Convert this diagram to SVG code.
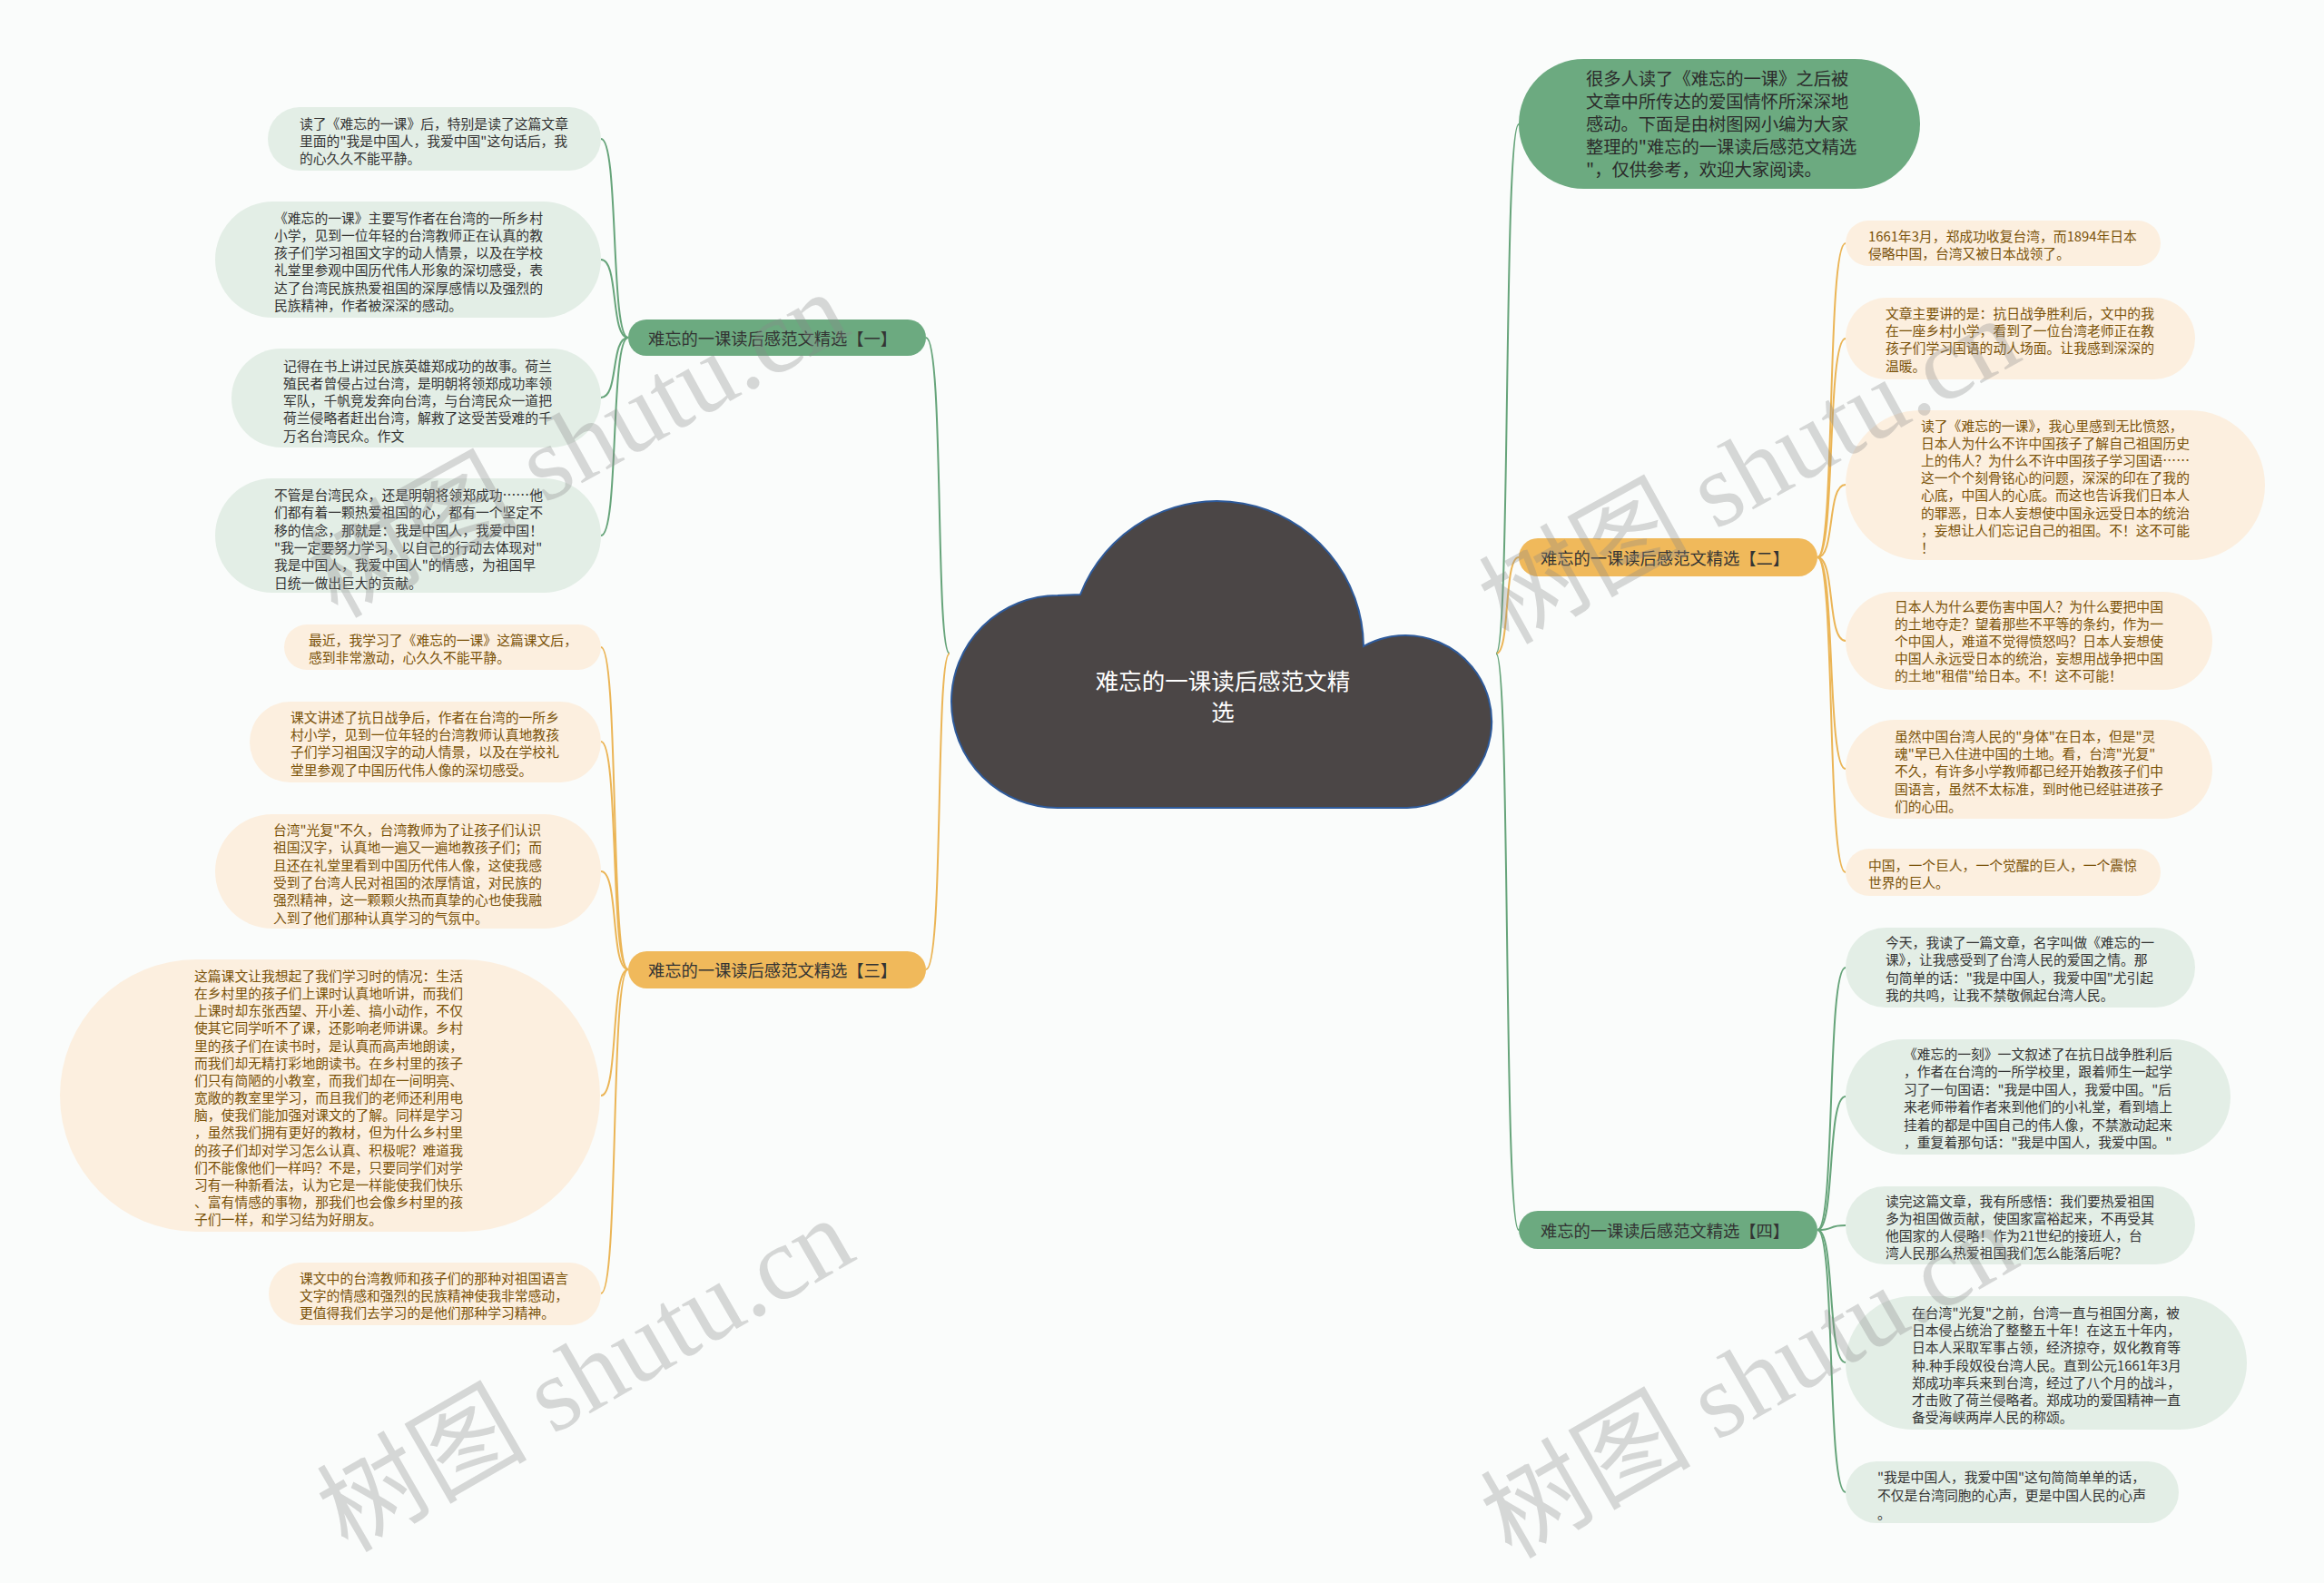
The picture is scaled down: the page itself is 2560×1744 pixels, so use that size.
<svg xmlns="http://www.w3.org/2000/svg" width="2560" height="1744" viewBox="0 0 2560 1744">
<style>
text{font-family:"Noto Sans CJK SC","Noto Sans",sans-serif;dominant-baseline:central}
.lf{font-size:14.8px}
.gt{fill:#333333}
.ot{fill:#7a5208}
.gl{fill:#e3eee6}
.ol{fill:#fcefdf}
.gb{fill:#6caa80}
.ob{fill:#f0b95b}
.lb{font-size:18.3px;fill:#333333;text-anchor:middle}
.cg{fill:none;stroke:#66a47a;stroke-width:2}
.co{fill:none;stroke:#ebb556;stroke-width:2}
.wm{font-family:"Liberation Serif","Noto Sans CJK SC",serif;font-size:116px;fill:#8a8a8a;fill-opacity:0.32;text-anchor:middle}
</style>
<rect width="2560" height="1744" fill="#fafcfb"/>
<g id="connectors">
<path class="cg" d="M1046 720 C1030 720 1040 372 1020 372"/>
<path class="co" d="M1046 720 C1030 720 1040 1068 1020 1068"/>
<path class="cg" d="M1648 720 C1664 720 1656 137 1673 137"/>
<path class="co" d="M1648 720 C1664 720 1656 614 1673 614"/>
<path class="cg" d="M1648 720 C1664 720 1656 1355 1673 1355"/>
<path class="cg" d="M692 372 C672 372 682 153 662 153"/>
<path class="cg" d="M692 372 C672 372 682 286 662 286"/>
<path class="cg" d="M692 372 C672 372 682 438 662 438"/>
<path class="cg" d="M692 372 C672 372 682 590 662 590"/>
<path class="co" d="M692 1068 C672 1068 682 713 662 713"/>
<path class="co" d="M692 1068 C672 1068 682 817 662 817"/>
<path class="co" d="M692 1068 C672 1068 682 960 662 960"/>
<path class="co" d="M692 1068 C672 1068 682 1207 662 1207"/>
<path class="co" d="M692 1068 C672 1068 682 1425 662 1425"/>
<path class="co" d="M2002 614 C2022 614 2012 268 2033 268"/>
<path class="co" d="M2002 614 C2022 614 2012 373 2033 373"/>
<path class="co" d="M2002 614 C2022 614 2012 534 2033 534"/>
<path class="co" d="M2002 614 C2022 614 2012 706 2033 706"/>
<path class="co" d="M2002 614 C2022 614 2012 847 2033 847"/>
<path class="co" d="M2002 614 C2022 614 2012 961 2033 961"/>
<path class="cg" d="M2002 1355 C2022 1355 2012 1066 2033 1066"/>
<path class="cg" d="M2002 1355 C2022 1355 2012 1208 2033 1208"/>
<path class="cg" d="M2002 1355 C2022 1355 2012 1350 2033 1350"/>
<path class="cg" d="M2002 1355 C2022 1355 2012 1501 2033 1501"/>
<path class="cg" d="M2002 1355 C2022 1355 2012 1644 2033 1644"/>
</g>
<g id="root">
<path d="M1165 656 L1190 655 A161.5 161.5 0 0 1 1502 712 A95 95 0 1 1 1550 890 L1165 890 A117 117 0 0 1 1048 773 A117 117 0 0 1 1165 656 Z" fill="#4b4646" stroke="#2e5a9a" stroke-width="2"/>
<text x="1347" y="748" font-size="25.5" fill="#ffffff" text-anchor="middle">难忘的一课读后感范文精</text>
<text x="1347" y="782" font-size="25.5" fill="#ffffff" text-anchor="middle">选</text>
</g>
<g id="intro">
<rect class="gb" x="1673" y="65" width="442" height="143" rx="71.5"/>
<text font-size="19.3" fill="#2b2b2b"><tspan x="1747" y="86">很多人读了《难忘的一课》之后被</tspan><tspan x="1747" dy="25">文章中所传达的爱国情怀所深深地</tspan><tspan x="1747" dy="25">感动。下面是由树图网小编为大家</tspan><tspan x="1747" dy="25">整理的"难忘的一课读后感范文精选</tspan><tspan x="1747" dy="25">"，仅供参考，欢迎大家阅读。</tspan></text>
</g>
<g id="branch1">
<rect class="gb" x="692" y="352" width="328" height="40" rx="20"/>
<text class="lb" x="851" y="372">难忘的一课读后感范文精选【一】</text>
</g>
<g id="branch3">
<rect class="ob" x="692" y="1048" width="328" height="41" rx="20.5"/>
<text class="lb" x="851" y="1068">难忘的一课读后感范文精选【三】</text>
</g>
<g id="branch2">
<rect class="ob" x="1673" y="593" width="329" height="42" rx="21"/>
<text class="lb" x="1834" y="614">难忘的一课读后感范文精选【二】</text>
</g>
<g id="branch4">
<rect class="gb" x="1673" y="1334" width="329" height="42" rx="21"/>
<text class="lb" x="1834" y="1355">难忘的一课读后感范文精选【四】</text>
</g>
<g id="l1a">
<rect class="gl" x="295" y="118" width="367" height="70" rx="35"/>
<text class="lf gt"><tspan x="330" y="135">读了《难忘的一课》后，特别是读了这篇文章</tspan><tspan x="330" dy="19.2">里面的"我是中国人，我爱中国"这句话后，我</tspan><tspan x="330" dy="19.2">的心久久不能平静。</tspan></text>
</g>
<g id="l1b">
<rect class="gl" x="237" y="222" width="425" height="128" rx="64"/>
<text class="lf gt"><tspan x="302" y="238.5">《难忘的一课》主要写作者在台湾的一所乡村</tspan><tspan x="302" dy="19.3">小学，见到一位年轻的台湾教师正在认真的教</tspan><tspan x="302" dy="19.3">孩子们学习祖国文字的动人情景，以及在学校</tspan><tspan x="302" dy="19.3">礼堂里参观中国历代伟人形象的深切感受，表</tspan><tspan x="302" dy="19.3">达了台湾民族热爱祖国的深厚感情以及强烈的</tspan><tspan x="302" dy="19.3">民族精神，作者被深深的感动。</tspan></text>
</g>
<g id="l1c">
<rect class="gl" x="255" y="384" width="407" height="109" rx="54.5"/>
<text class="lf gt"><tspan x="312" y="401.5">记得在书上讲过民族英雄郑成功的故事。荷兰</tspan><tspan x="312" dy="19.3">殖民者曾侵占过台湾，是明朝将领郑成功率领</tspan><tspan x="312" dy="19.3">军队，千帆竞发奔向台湾，与台湾民众一道把</tspan><tspan x="312" dy="19.3">荷兰侵略者赶出台湾，解救了这受苦受难的千</tspan><tspan x="312" dy="19.3">万名台湾民众。作文</tspan></text>
</g>
<g id="l1d">
<rect class="gl" x="237" y="527" width="425" height="126" rx="63"/>
<text class="lf gt"><tspan x="302" y="544">不管是台湾民众，还是明朝将领郑成功……他</tspan><tspan x="302" dy="19.3">们都有着一颗热爱祖国的心，都有一个坚定不</tspan><tspan x="302" dy="19.3">移的信念，那就是：我是中国人，我爱中国！</tspan><tspan x="302" dy="19.3">"我一定要努力学习，以自己的行动去体现对"</tspan><tspan x="302" dy="19.3">我是中国人，我爱中国人"的情感，为祖国早</tspan><tspan x="302" dy="19.3">日统一做出巨大的贡献。</tspan></text>
</g>
<g id="l3a">
<rect class="ol" x="313" y="688" width="349" height="50" rx="25"/>
<text class="lf ot"><tspan x="340" y="704">最近，我学习了《难忘的一课》这篇课文后，</tspan><tspan x="340" dy="19">感到非常激动，心久久不能平静。</tspan></text>
</g>
<g id="l3b">
<rect class="ol" x="275" y="773" width="387" height="89" rx="44.5"/>
<text class="lf ot"><tspan x="320" y="789">课文讲述了抗日战争后，作者在台湾的一所乡</tspan><tspan x="320" dy="19.2">村小学，见到一位年轻的台湾教师认真地教孩</tspan><tspan x="320" dy="19.2">子们学习祖国汉字的动人情景，以及在学校礼</tspan><tspan x="320" dy="19.2">堂里参观了中国历代伟人像的深切感受。</tspan></text>
</g>
<g id="l3c">
<rect class="ol" x="237" y="897" width="425" height="126" rx="63"/>
<text class="lf ot"><tspan x="301" y="913">台湾"光复"不久，台湾教师为了让孩子们认识</tspan><tspan x="301" dy="19.3">祖国汉字，认真地一遍又一遍地教孩子们；而</tspan><tspan x="301" dy="19.3">且还在礼堂里看到中国历代伟人像，这使我感</tspan><tspan x="301" dy="19.3">受到了台湾人民对祖国的浓厚情谊，对民族的</tspan><tspan x="301" dy="19.3">强烈精神，这一颗颗火热而真挚的心也使我融</tspan><tspan x="301" dy="19.3">入到了他们那种认真学习的气氛中。</tspan></text>
</g>
<g id="l3d">
<rect class="ol" x="66" y="1057" width="595" height="300" rx="150"/>
<text class="lf ot"><tspan x="214" y="1074">这篇课文让我想起了我们学习时的情况：生活</tspan><tspan x="214" dy="19.15">在乡村里的孩子们上课时认真地听讲，而我们</tspan><tspan x="214" dy="19.15">上课时却东张西望、开小差、搞小动作，不仅</tspan><tspan x="214" dy="19.15">使其它同学听不了课，还影响老师讲课。乡村</tspan><tspan x="214" dy="19.15">里的孩子们在读书时，是认真而高声地朗读，</tspan><tspan x="214" dy="19.15">而我们却无精打彩地朗读书。在乡村里的孩子</tspan><tspan x="214" dy="19.15">们只有简陋的小教室，而我们却在一间明亮、</tspan><tspan x="214" dy="19.15">宽敞的教室里学习，而且我们的老师还利用电</tspan><tspan x="214" dy="19.15">脑，使我们能加强对课文的了解。同样是学习</tspan><tspan x="214" dy="19.15">，虽然我们拥有更好的教材，但为什么乡村里</tspan><tspan x="214" dy="19.15">的孩子们却对学习怎么认真、积极呢？难道我</tspan><tspan x="214" dy="19.15">们不能像他们一样吗？不是，只要同学们对学</tspan><tspan x="214" dy="19.15">习有一种新看法，认为它是一样能使我们快乐</tspan><tspan x="214" dy="19.15">、富有情感的事物，那我们也会像乡村里的孩</tspan><tspan x="214" dy="19.15">子们一样，和学习结为好朋友。</tspan></text>
</g>
<g id="l3e">
<rect class="ol" x="296" y="1391" width="366" height="69" rx="34.5"/>
<text class="lf ot"><tspan x="330" y="1407">课文中的台湾教师和孩子们的那种对祖国语言</tspan><tspan x="330" dy="19.2">文字的情感和强烈的民族精神使我非常感动，</tspan><tspan x="330" dy="19.2">更值得我们去学习的是他们那种学习精神。</tspan></text>
</g>
<g id="r2a">
<rect class="ol" x="2033" y="243" width="347" height="50" rx="25"/>
<text class="lf ot"><tspan x="2058" y="259">1661年3月，郑成功收复台湾，而1894年日本</tspan><tspan x="2058" dy="19">侵略中国，台湾又被日本战领了。</tspan></text>
</g>
<g id="r2b">
<rect class="ol" x="2033" y="328" width="385" height="90" rx="45"/>
<text class="lf ot"><tspan x="2077" y="344">文章主要讲的是：抗日战争胜利后，文中的我</tspan><tspan x="2077" dy="19.2">在一座乡村小学，看到了一位台湾老师正在教</tspan><tspan x="2077" dy="19.2">孩子们学习国语的动人场面。让我感到深深的</tspan><tspan x="2077" dy="19.2">温暖。</tspan></text>
</g>
<g id="r2c">
<rect class="ol" x="2033" y="452" width="462" height="165" rx="82.5"/>
<text class="lf ot"><tspan x="2116" y="468">读了《难忘的一课》，我心里感到无比愤怒，</tspan><tspan x="2116" dy="19.1">日本人为什么不许中国孩子了解自己祖国历史</tspan><tspan x="2116" dy="19.1">上的伟人？为什么不许中国孩子学习国语……</tspan><tspan x="2116" dy="19.1">这一个个刻骨铭心的问题，深深的印在了我的</tspan><tspan x="2116" dy="19.1">心底，中国人的心底。而这也告诉我们日本人</tspan><tspan x="2116" dy="19.1">的罪恶，日本人妄想使中国永远受日本的统治</tspan><tspan x="2116" dy="19.1">，妄想让人们忘记自己的祖国。不！这不可能</tspan><tspan x="2116" dy="19.1">！</tspan></text>
</g>
<g id="r2d">
<rect class="ol" x="2033" y="652" width="404" height="108" rx="54"/>
<text class="lf ot"><tspan x="2087" y="667">日本人为什么要伤害中国人？为什么要把中国</tspan><tspan x="2087" dy="19.1">的土地夺走？望着那些不平等的条约，作为一</tspan><tspan x="2087" dy="19.1">个中国人，难道不觉得愤怒吗？日本人妄想使</tspan><tspan x="2087" dy="19.1">中国人永远受日本的统治，妄想用战争把中国</tspan><tspan x="2087" dy="19.1">的土地"租借"给日本。不！这不可能！</tspan></text>
</g>
<g id="r2e">
<rect class="ol" x="2033" y="793" width="404" height="109" rx="54.5"/>
<text class="lf ot"><tspan x="2087" y="810">虽然中国台湾人民的"身体"在日本，但是"灵</tspan><tspan x="2087" dy="19.2">魂"早已入住进中国的土地。看，台湾"光复"</tspan><tspan x="2087" dy="19.2">不久，有许多小学教师都已经开始教孩子们中</tspan><tspan x="2087" dy="19.2">国语言，虽然不太标准，到时他已经驻进孩子</tspan><tspan x="2087" dy="19.2">们的心田。</tspan></text>
</g>
<g id="r2f">
<rect class="ol" x="2033" y="935" width="347" height="52" rx="26"/>
<text class="lf ot"><tspan x="2058" y="952">中国，一个巨人，一个觉醒的巨人，一个震惊</tspan><tspan x="2058" dy="19">世界的巨人。</tspan></text>
</g>
<g id="r4a">
<rect class="gl" x="2033" y="1022" width="385" height="88" rx="44"/>
<text class="lf gt"><tspan x="2077" y="1037">今天，我读了一篇文章，名字叫做《难忘的一</tspan><tspan x="2077" dy="19.3">课》，让我感受到了台湾人民的爱国之情。那</tspan><tspan x="2077" dy="19.3">句简单的话："我是中国人，我爱中国"尤引起</tspan><tspan x="2077" dy="19.3">我的共鸣，让我不禁敬佩起台湾人民。</tspan></text>
</g>
<g id="r4b">
<rect class="gl" x="2033" y="1145" width="424" height="127" rx="63.5"/>
<text class="lf gt"><tspan x="2097" y="1160">《难忘的一刻》一文叙述了在抗日战争胜利后</tspan><tspan x="2097" dy="19.4">，作者在台湾的一所学校里，跟着师生一起学</tspan><tspan x="2097" dy="19.4">习了一句国语："我是中国人，我爱中国。"后</tspan><tspan x="2097" dy="19.4">来老师带着作者来到他们的小礼堂，看到墙上</tspan><tspan x="2097" dy="19.4">挂着的都是中国自己的伟人像，不禁激动起来</tspan><tspan x="2097" dy="19.4">，重复着那句话："我是中国人，我爱中国。"</tspan></text>
</g>
<g id="r4c">
<rect class="gl" x="2033" y="1307" width="385" height="86" rx="43"/>
<text class="lf gt"><tspan x="2077" y="1322">读完这篇文章，我有所感悟：我们要热爱祖国</tspan><tspan x="2077" dy="19.1">多为祖国做贡献，使国家富裕起来，不再受其</tspan><tspan x="2077" dy="19.1">他国家的人侵略！作为21世纪的接班人，台</tspan><tspan x="2077" dy="19.1">湾人民那么热爱祖国我们怎么能落后呢？</tspan></text>
</g>
<g id="r4d">
<rect class="gl" x="2033" y="1428" width="442" height="147" rx="73.5"/>
<text class="lf gt"><tspan x="2106" y="1445">在台湾"光复"之前，台湾一直与祖国分离，被</tspan><tspan x="2106" dy="19.2">日本侵占统治了整整五十年！在这五十年内，</tspan><tspan x="2106" dy="19.2">日本人采取军事占领，经济掠夺，奴化教育等</tspan><tspan x="2106" dy="19.2">种.种手段奴役台湾人民。直到公元1661年3月</tspan><tspan x="2106" dy="19.2">郑成功率兵来到台湾，经过了八个月的战斗，</tspan><tspan x="2106" dy="19.2">才击败了荷兰侵略者。郑成功的爱国精神一直</tspan><tspan x="2106" dy="19.2">备受海峡两岸人民的称颂。</tspan></text>
</g>
<g id="r4e">
<rect class="gl" x="2033" y="1610" width="367" height="68" rx="34"/>
<text class="lf gt"><tspan x="2068" y="1626">"我是中国人，我爱中国"这句简简单单的话，</tspan><tspan x="2068" dy="19.5">不仅是台湾同胞的心声，更是中国人民的心声</tspan><tspan x="2068" dy="20">。</tspan></text>
</g>
<g id="watermarks">
<text class="wm" transform="translate(637 490) rotate(-29)">树图 shutu.cn</text>
<text class="wm" transform="translate(645 1515) rotate(-30)">树图 shutu.cn</text>
<text class="wm" transform="translate(1927 519) rotate(-29)">树图 shutu.cn</text>
<text class="wm" transform="translate(1927 1522) rotate(-30)">树图 shutu.cn</text>
</g>
</svg>
